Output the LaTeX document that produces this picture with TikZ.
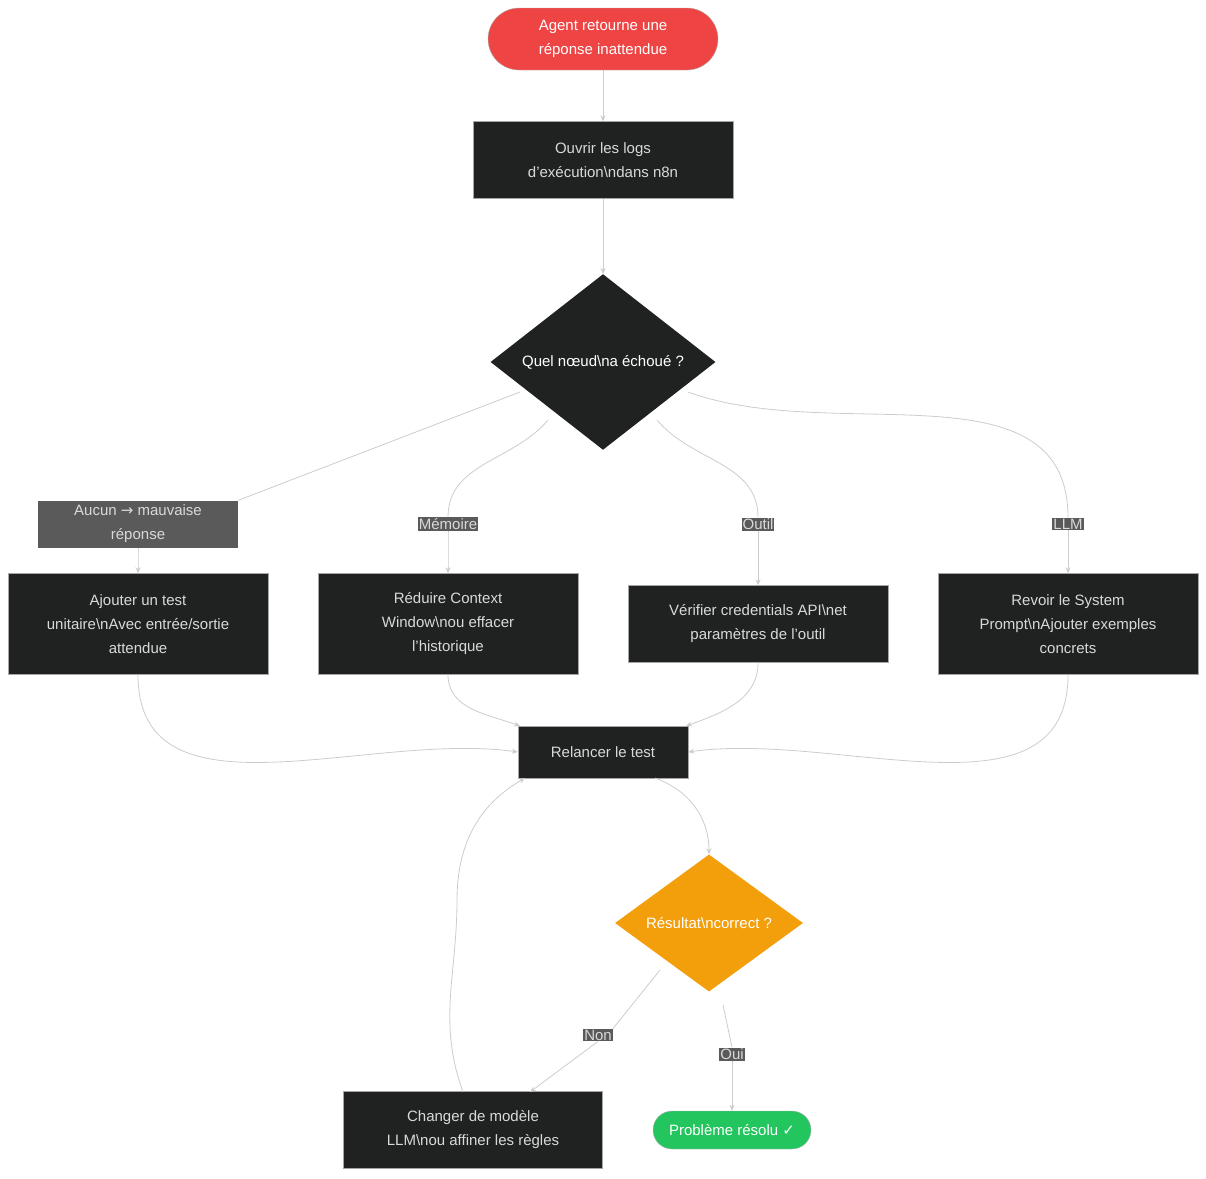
\documentclass[tikz,border=0pt]{standalone}
\usepackage{fontspec}
\setmainfont{Liberation Sans}
\newfontfamily\dvs{DejaVu Sans}
\usetikzlibrary{shapes.geometric,arrows.meta}
\definecolor{dark}{HTML}{202221}
\definecolor{lbl}{HTML}{5A5A5A}
\definecolor{edge}{HTML}{CCCCCC}
\begin{document}
\begin{tikzpicture}[x=1pt,y=-1pt,
  box/.style={draw=gray!70,fill=dark,text=white!85!black,align=center,minimum width=260pt,inner sep=0pt,font=\fontsize{15}{24}\selectfont},
  lab/.style={fill=lbl,text=white!85!black,align=center,inner sep=1pt,font=\fontsize{15}{24}\selectfont},
  dia/.style={diamond,aspect=1,inner sep=0pt,align=center,font=\fontsize{15}{24}\selectfont},
  pill/.style={rounded corners=19pt,draw=gray!60,text=white,align=center,font=\fontsize{15}{24}\selectfont},
  e/.style={draw=edge,line width=0.8pt,-{Stealth[length=6pt,width=5pt]}}]
\useasboundingbox (0,0) rectangle (1206,1178);
\node[pill,fill={rgb,255:red,239;green,68;blue,68},minimum width=230pt,minimum height=62pt,rounded corners=31pt] (start) at (603,39) {Agent retourne une\\réponse inattendue};
\node[box,minimum height=77pt] (logs) at (603,160) {Ouvrir les logs\\d'exécution\textbackslash ndans n8n};
\node[dia,fill=dark,text=white,minimum width=225pt] (q) at (603,362) {Quel nœud\textbackslash na échoué ?};
\node[box,minimum height=101pt] (a) at (138,624) {Ajouter un test\\unitaire\textbackslash nAvec entrée/sortie\\attendue};
\node[box,minimum height=101pt] (b) at (448,624) {Réduire Context\\Window\textbackslash nou effacer\\l'historique};
\node[box,minimum height=77pt] (c) at (758,624) {Vérifier credentials API\textbackslash net\\paramètres de l'outil};
\node[box,minimum height=101pt] (d) at (1068,624) {Revoir le System\\Prompt\textbackslash nAjouter exemples\\concrets};
\node[lab,minimum width=200pt,minimum height=47pt] (la) at (138,524) {Aucun {\dvs →} mauvaise\\réponse};
\node[lab] (lb) at (448,524) {Mémoire};
\node[lab] (lc) at (758,524) {Outil};
\node[lab] (ld) at (1068,524) {LLM};
\node[box,minimum width=170pt,minimum height=52pt] (r) at (603,752) {Relancer le test};
\node[dia,fill={rgb,255:red,243;green,158;blue,11},text=white,minimum width=188pt] (o) at (709,923) {Résultat\textbackslash ncorrect ?};
\node[box,minimum width=259pt,minimum height=77pt] (ch) at (473,1130) {Changer de modèle\\LLM\textbackslash nou affiner les règles};
\node[pill,fill={rgb,255:red,34;green,197;blue,94},minimum width=158pt,minimum height=38pt] (ok) at (732,1130) {Problème résolu {\dvs ✓}};
\node[lab] (ln) at (598,1035) {Non};
\node[lab] (lo) at (732,1054) {Oui};
\draw[e] (start) -- (logs);
\draw[e] (logs) -- (q.north);
\draw[draw=edge,line width=0.8pt] (520,392) -- (la.north east);
\draw[e] (la.south) to[out=-90,in=90] (a.north);
\draw[draw=edge,line width=0.8pt] (548,420) to[out=-130,in=90] (lb.north);
\draw[e] (lb.south) to[out=-90,in=90] (b.north);
\draw[draw=edge,line width=0.8pt] (657,420) to[out=-50,in=90] (lc.north);
\draw[e] (lc.south) to[out=-90,in=90] (c.north);
\draw[draw=edge,line width=0.8pt] (688,392) to[out=-20,in=90] (ld.north);
\draw[e] (ld.south) to[out=-90,in=90] (d.north);
\draw[e] (a.south) to[out=-90,in=172] (r.west);
\draw[e] (b.south) to[out=-90,in=160] (520,726);
\draw[e] (c.south) to[out=-90,in=20] (686,726);
\draw[e] (d.south) to[out=-90,in=8] (r.east);
\draw[e] (655,778) to[out=-20,in=90] (o.north);
\draw[draw=edge,line width=0.8pt] (660,970) -- (ln.north east);
\draw[e] (ln.south) -- (530,1092);
\draw[draw=edge,line width=0.8pt] (723,1005) -- (lo.north);
\draw[e] (lo.south) -- (ok.north);
\draw[e] (463,1092) to[out=110,in=-90] (457,900) to[out=90,in=-150] (525,778);
\end{tikzpicture}
\end{document}
